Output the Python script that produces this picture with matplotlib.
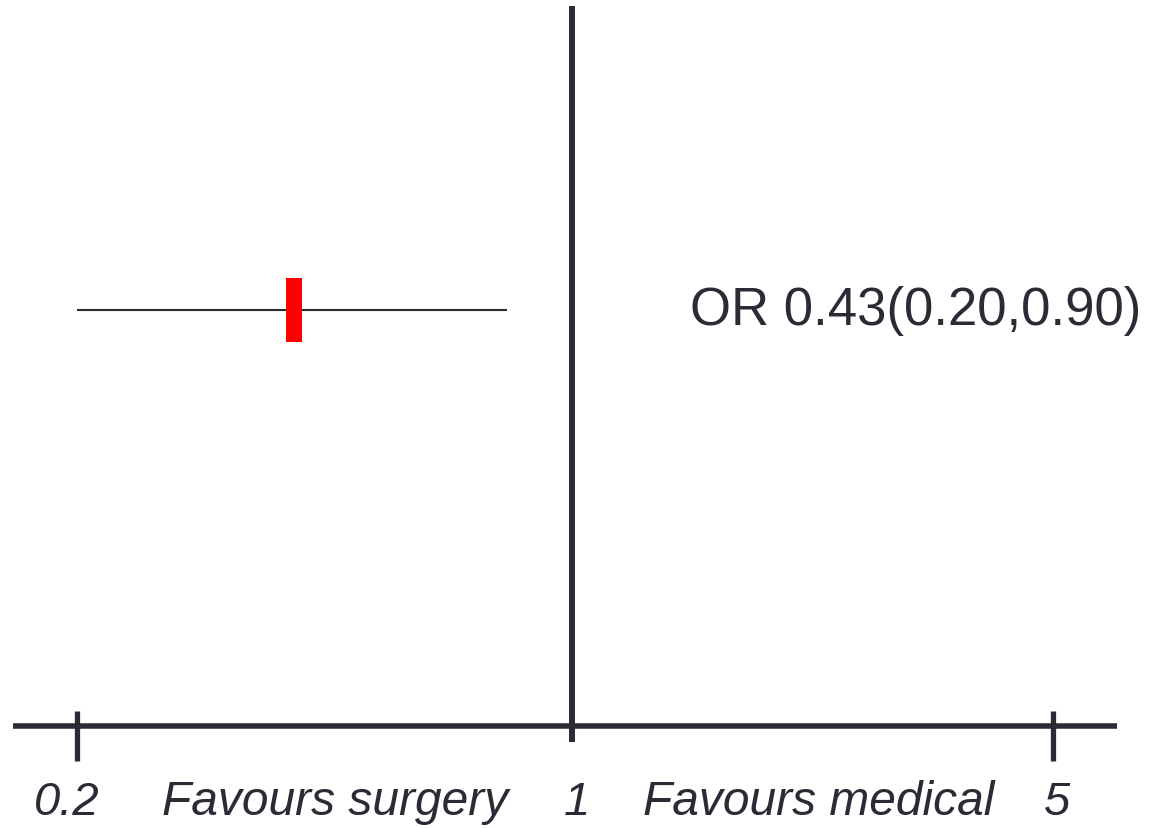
import numpy as np
import matplotlib
matplotlib.use("Agg")
import matplotlib.pyplot as plt
import matplotlib.transforms as mtransforms

# ---- data ----
row_labels = ["OR 0.43(0.20,0.90)"]
point_est = [0.405]     # drawn marker position
ci_low = [0.20]
ci_high = [0.81]
tick_values = [0.2, 1, 5]
tick_labels = ["0.2", "1", "5"]
side_labels = ["Favours surgery", "Favours medical"]

dark = "#2b2b36"
font = "Liberation Sans"

# piecewise log scale (left / right halves drawn with slightly different spans)
kL, kR = 708.2, 688.1
def fwd(x):
    x = np.asarray(x, dtype=float)
    lx = np.log10(np.clip(x, 1e-12, None))
    return np.where(lx < 0, lx * kL, lx * kR)
def inv(y):
    y = np.asarray(y, dtype=float)
    return np.where(y < 0, 10 ** (y / kL), 10 ** (y / kR))

fig = plt.figure(figsize=(11.57, 8.29), dpi=100)
ax = fig.add_axes([0, 0, 1, 1])
ax.set_xscale("function", functions=(fwd, inv))
ax.set_xlim(float(inv(-572)), float(inv(585)))
ax.set_ylim(-102 / 416, 727 / 416)
ax.axis("off")
trans = mtransforms.blended_transform_factory(ax.transAxes, ax.transData)

# x axis line
ax.axhline(0, xmin=13 / 1157, xmax=1117 / 1157, color=dark, lw=4, solid_capstyle="butt")
# line of no effect
ax.axvline(1, ymin=86 / 829, ymax=822 / 829, color=dark, lw=4.3, solid_capstyle="butt")
# end ticks
ax.vlines([tick_values[0], tick_values[-1]], -0.084, 0.036, color=dark, lw=3.8)

# CI and point
for i, (p, lo, hi) in enumerate(zip(point_est, ci_low, ci_high)):
    y = 1 - i
    ax.hlines(y, lo, hi, color=dark, lw=1.5)
    ax.plot([p], [y], marker=[(-1, -4), (1, -4), (1, 4), (-1, 4)], markersize=46,
            color="#ff0000", markeredgewidth=0, linestyle="none")
    ax.text(690 / 1157, y, row_labels[i], transform=trans,
            ha="left", va="center", fontsize=38, color=dark, family=font)

# tick labels
offsets = [-10, 5, 4]
for v, lab, off in zip(tick_values, tick_labels, offsets):
    ax.annotate(lab, (v, -76 / 416), xytext=(off * 0.72, 0), textcoords="offset points",
                ha="center", va="center", fontsize=34, color=dark, family=font, style="italic")

for xf, lab in zip([335 / 1157, 819 / 1157], side_labels):
    ax.text(xf, -76 / 416, lab, transform=trans, ha="center", va="center",
            fontsize=34.5, color=dark, family=font, style="italic")

fig.savefig("out.png", dpi=100)
